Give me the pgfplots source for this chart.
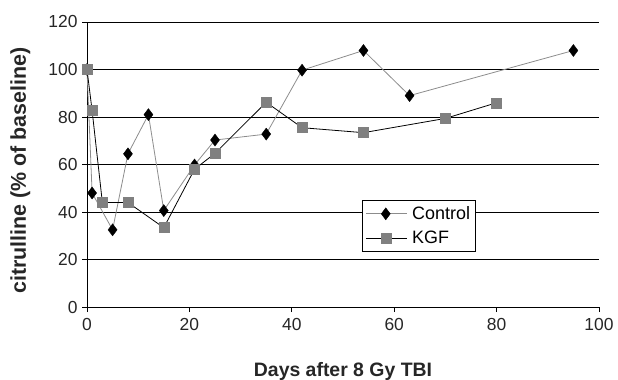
\documentclass[border=0pt]{standalone}
\usepackage{pgfplots}
\pgfplotsset{compat=1.18}
\usepackage{fontspec}
\setmainfont{Liberation Sans}
\begin{document}
\begin{tikzpicture}
\begin{axis}[
  scale only axis, width=512bp, height=285bp,
  xmin=0, xmax=100, ymin=0, ymax=120,
  xtick={0,20,...,100}, ytick={0,20,...,120},
  axis x line*=bottom, axis y line*=left,
  axis line style={-, black, line width=0.9pt},
  ymajorgrids, grid style={black, line width=0.9pt},
  tick align=outside, major tick length=5bp,
  tick style={black, line width=0.9pt},
  /pgf/number format/assume math mode=true,
  ticklabel style={font=\fontsize{17.5}{19}\selectfont, text=black!85},
  xticklabel style={yshift=-3bp},
  yticklabel style={xshift=-1bp},
  xlabel={\textbf{Days after 8 Gy TBI}},
  ylabel={\textbf{citrulline (\% of baseline)}},
  xlabel style={font=\fontsize{19.5}{21}\selectfont, text=black!85, at={(axis description cs:0.5,-0.2456)}, anchor=base},
  ylabel style={font=\fontsize{21.5}{23}\selectfont, text=black!85, at={(axis description cs:-0.13,0.479)}, anchor=center},
  legend style={at={(axis cs:53.7,45)}, anchor=north west, draw=black, line width=0.9pt, font=\fontsize{18}{20}\selectfont, fill=white, inner xsep=3bp, inner ysep=4bp, row sep=6bp},
  legend cell align=left,
  legend image code/.code={\draw[mark repeat=2, mark phase=2] plot coordinates {(0bp,0bp) (20bp,0bp) (41bp,0bp)}; \path (0bp,0bp) (44bp,0bp);},
  clip=false,
]
\addplot[color=black!45, line width=0.8pt, mark=diamond*, mark size=6bp, mark options={draw=black, fill=black, line width=0.4pt}] coordinates {
(0,100) (1,48) (5,32.5) (8,64.5) (12,81) (15,40.6) (21,59.8) (25,70.3) (35,72.8) (42,99.7) (54,108) (63,89) (95,108)};
\addlegendentry{Control}
\addplot[color=black, line width=0.8pt, mark=square*, mark size=5bp, mark options={draw=black!50, fill=black!50, line width=0.4pt}] coordinates {
(0,100) (1,82.7) (3,44) (8,44) (15,33.4) (21,58) (25,64.7) (35,86.2) (42,75.5) (54,73.4) (70,79.4) (80,86)};
\addlegendentry{KGF}
\end{axis}
\pgfresetboundingbox
\path (current axis.south west) ++(-87bp,-73bp) coordinate (bl);
\path (current axis.north east) ++(19bp,22bp) coordinate (tr);
\path[use as bounding box] (bl) rectangle (tr);
\end{tikzpicture}
\end{document}
